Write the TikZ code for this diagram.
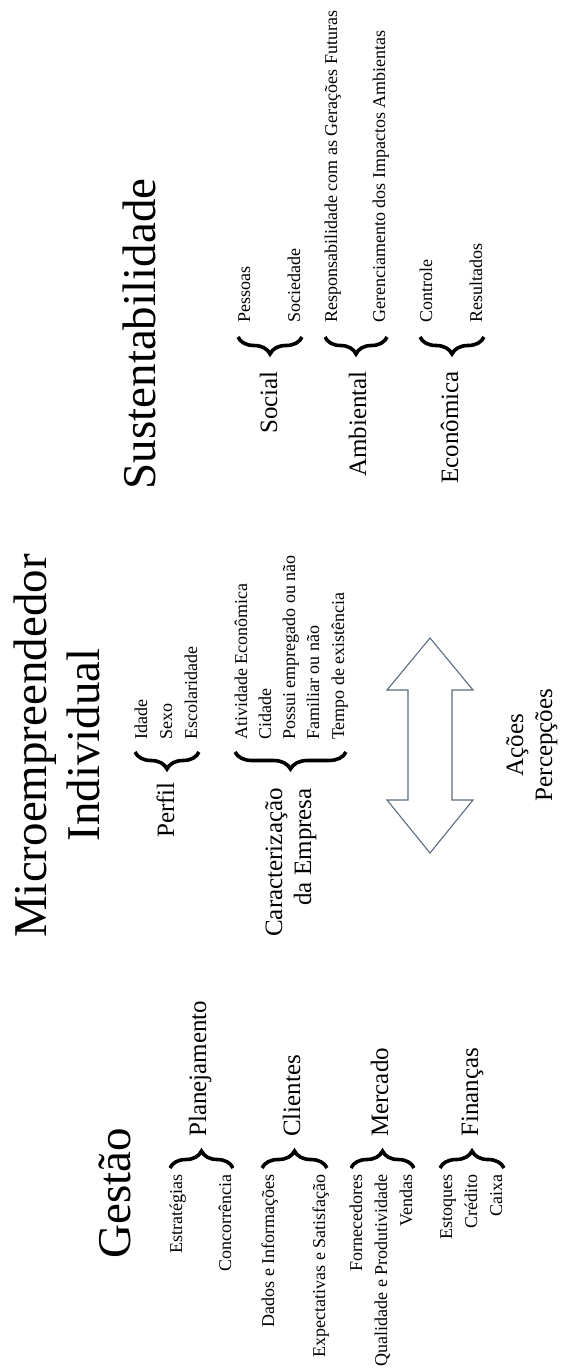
\documentclass[tikz,border=0pt]{standalone}
\usepackage{fontspec}
\setmainfont{Liberation Serif}
\usetikzlibrary{decorations.pathreplacing}
\definecolor{arrowcol}{RGB}{90,108,128}
\begin{document}
\begin{tikzpicture}[x=1pt,y=-1pt,
  title/.style={rotate=90, font=\fontsize{47}{54}\selectfont, inner sep=0pt},
  lbl/.style={rotate=90, font=\fontsize{25}{29}\selectfont, inner sep=0pt},
  item/.style={rotate=90, font=\fontsize{18}{21}\selectfont, inner sep=0pt},
  brc/.style={decorate, decoration={brace, amplitude=17pt}, line width=3.6pt},
  arrowline/.style={draw=arrowcol, line width=1.1pt, line join=miter}]
\useasboundingbox (0,0) rectangle (560,1372);

% Titles
\node[title, anchor=base] (gestao) at (130,1193) {Gestão};
\node[title, anchor=base] (micro1) at (46,746) {Microempreendedor};
\node[title, anchor=base] (micro2) at (99,745) {Individual};
\node[title, anchor=base] (sust) at (155,334) {Sustentabilidade};

% Gestao group
\node[lbl, anchor=base west] (planej) at (206,1137) {Planejamento};
\node[lbl, anchor=base west] (clientes) at (300,1137) {Clientes};
\node[lbl, anchor=base west] (mercado) at (388,1137) {Mercado};
\node[lbl, anchor=base west] (financas) at (478,1137) {Finanças};

\node[item, anchor=base east] (estrat) at (182,1174) {Estratégias};
\node[item, anchor=base east] (concor) at (231,1174) {Concorrência};
\node[item, anchor=base east] (dados) at (274,1174) {Dados e Informações};
\node[item, anchor=base east] (expect) at (325,1174) {Expectativas e Satisfação};
\node[item, anchor=base east] (fornec) at (362,1174) {Fornecedores};
\node[item, anchor=base east] (qualid) at (387,1174) {Qualidade e Produtividade};
\node[item, anchor=base east] (vendas) at (412,1174) {Vendas};
\node[item, anchor=base east] (estoq) at (452,1174) {Estoques};
\node[item, anchor=base east] (credito) at (477,1174) {Crédito};
\node[item, anchor=base east] (caixa) at (502,1174) {Caixa};

\draw[brc] (170,1168) -- (233,1168);
\draw[brc] (262,1168) -- (327,1168);
\draw[brc] (351,1168) -- (414,1168);
\draw[brc] (440,1168) -- (504,1168);

% Microempreendedor group
\node[lbl, anchor=base east] (perfil) at (174,782) {Perfil};
\node[item, anchor=base west] (idade) at (147,740) {Idade};
\node[item, anchor=base west] (sexo) at (172,740) {Sexo};
\node[item, anchor=base west] (escol) at (197,740) {Escolaridade};

\node[lbl, anchor=base east] (caract1) at (282,788) {Caracterização};
\node[lbl, anchor=base east] (caract2) at (311,788) {da Empresa};
\node[item, anchor=base west] (ativ) at (247,740) {Atividade Econômica};
\node[item, anchor=base west] (cidade) at (271,740) {Cidade};
\node[item, anchor=base west] (possui) at (295,740) {Possui empregado ou não};
\node[item, anchor=base west] (famil) at (319,740) {Familiar ou não};
\node[item, anchor=base west] (tempo) at (344,740) {Tempo de existência};

\draw[brc] (199,752) -- (135,752);
\draw[brc] (346,752) -- (235,752);

% Double arrow
\draw[arrowline] (430,638) -- (473,690) -- (452,690) -- (452,800) -- (473,800)
  -- (430,853) -- (387,800) -- (408,800) -- (408,690) -- (387,690) -- cycle;
\node[lbl, anchor=base] (acoes) at (523,745) {Ações};
\node[lbl, anchor=base] (percep) at (552,745) {Percepções};

% Sustentabilidade group
\node[lbl, anchor=base east] (social) at (277,371) {Social};
\node[lbl, anchor=base east] (ambiental) at (366,371) {Ambiental};
\node[lbl, anchor=base east] (economica) at (458,371) {Econômica};

\node[item, anchor=base west] (pessoas) at (250,323) {Pessoas};
\node[item, anchor=base west] (sociedade) at (300,323) {Sociedade};
\node[item, anchor=base west] (respons) at (337,323) {Responsabilidade com as Gerações Futuras};
\node[item, anchor=base west] (gerenc) at (385,323) {Gerenciamento dos Impactos Ambientas};
\node[item, anchor=base west] (controle) at (432,323) {Controle};
\node[item, anchor=base west] (result) at (482,323) {Resultados};

\draw[brc] (302,337) -- (238,337);
\draw[brc] (387,337) -- (325,337);
\draw[brc] (484,337) -- (420,337);
\end{tikzpicture}
\end{document}
